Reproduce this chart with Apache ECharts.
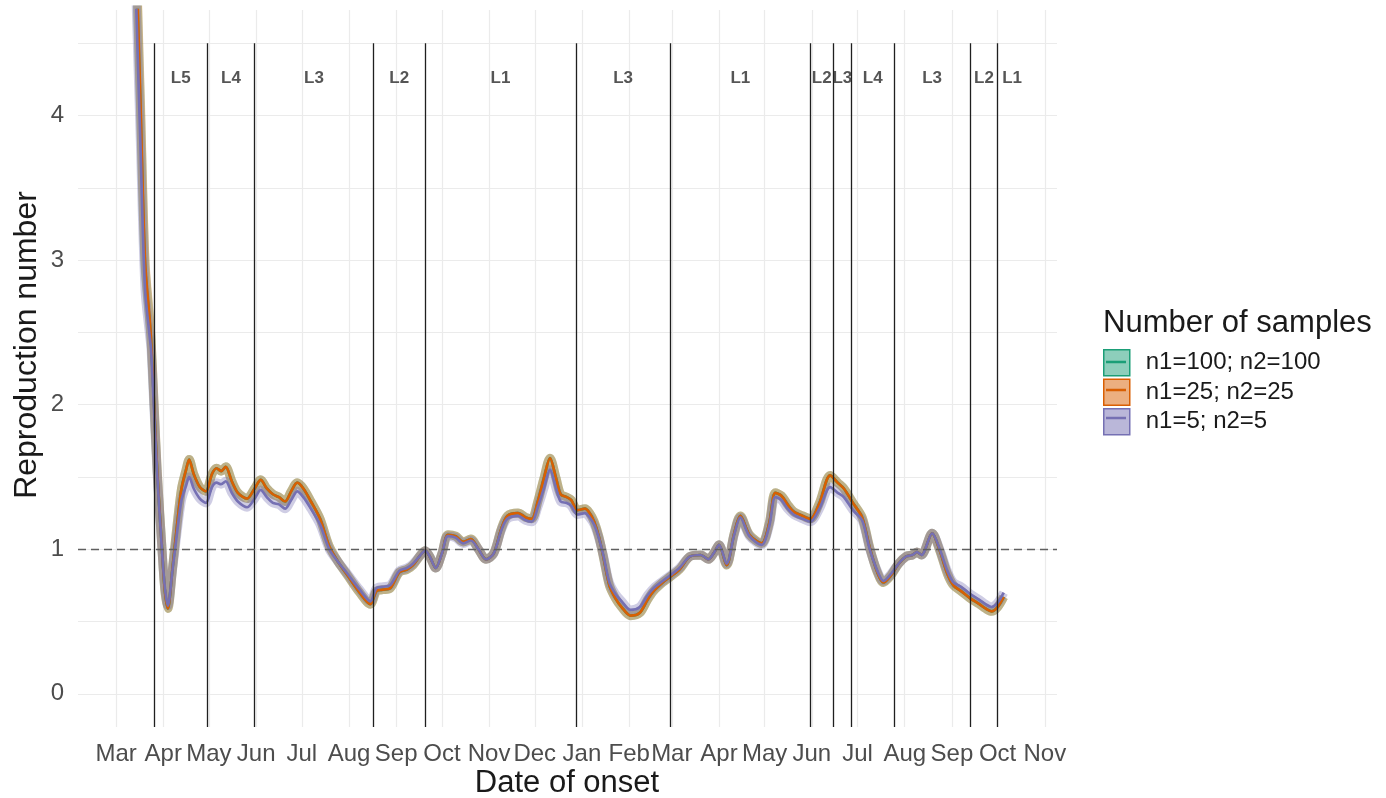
<!DOCTYPE html>
<html>
<head>
<meta charset="utf-8">
<title>Reproduction number by date of onset</title>
<script src="https://cdn.jsdelivr.net/npm/echarts@6/dist/echarts.min.js"></script>
<style>
  html, body { margin: 0; padding: 0; background: #ffffff; }
  #chart { width: 1386px; height: 798px; }
</style>
</head>
<body>
<div id="chart"></div>
<script>
// estimates
var dates = [
  '2020-03-12','2020-03-14','2020-03-17','2020-03-20','2020-03-23','2020-03-24','2020-03-26','2020-03-28','2020-03-31','2020-04-02',
  '2020-04-04','2020-04-07','2020-04-10','2020-04-13','2020-04-16','2020-04-18','2020-04-21','2020-04-25','2020-04-29','2020-05-03',
  '2020-05-06','2020-05-09','2020-05-12','2020-05-16','2020-05-20','2020-05-26','2020-05-31','2020-06-04','2020-06-08','2020-06-12',
  '2020-06-16','2020-06-20','2020-06-24','2020-06-28','2020-07-02','2020-07-07','2020-07-13','2020-07-19','2020-07-25','2020-07-31',
  '2020-08-08','2020-08-15','2020-08-19','2020-08-23','2020-08-28','2020-09-03','2020-09-08','2020-09-12','2020-09-17','2020-09-20',
  '2020-09-23','2020-09-27','2020-10-01','2020-10-05','2020-10-10','2020-10-15','2020-10-20','2020-10-25','2020-10-30','2020-11-04',
  '2020-11-09','2020-11-13','2020-11-20','2020-11-25','2020-11-29','2020-12-03','2020-12-07','2020-12-11','2020-12-15','2020-12-18',
  '2020-12-22','2020-12-25','2020-12-29','2021-01-03','2021-01-06','2021-01-09','2021-01-12','2021-01-15','2021-01-19','2021-01-23',
  '2021-01-27','2021-02-02','2021-02-08','2021-02-13','2021-02-17','2021-02-23','2021-02-28','2021-03-06','2021-03-13','2021-03-20',
  '2021-03-25','2021-03-29','2021-04-01','2021-04-06','2021-04-11','2021-04-15','2021-04-21','2021-04-29','2021-05-04','2021-05-08',
  '2021-05-12','2021-05-16','2021-05-20','2021-05-26','2021-05-31','2021-06-06','2021-06-13','2021-06-18','2021-06-22','2021-06-28',
  '2021-07-04','2021-07-09','2021-07-14','2021-07-18','2021-07-23','2021-07-28','2021-08-02','2021-08-06','2021-08-09','2021-08-12',
  '2021-08-19','2021-08-24','2021-08-29','2021-09-02','2021-09-07','2021-09-13','2021-09-19','2021-09-23','2021-09-27','2021-10-01',
  '2021-10-05'
];
var r100 = [
  5.95,5.15,4.05,2.97,2.58,2.44,1.99,1.54,1.03,0.72,
  0.59,0.86,1.16,1.42,1.55,1.62,1.52,1.43,1.40,1.52,
  1.56,1.54,1.57,1.47,1.39,1.35,1.42,1.48,1.42,1.38,
  1.36,1.33,1.40,1.46,1.42,1.33,1.21,1.02,0.91,0.82,
  0.70,0.62,0.71,0.72,0.73,0.84,0.86,0.89,0.96,0.99,
  0.95,0.87,0.97,1.10,1.09,1.05,1.07,1.00,0.93,0.97,
  1.14,1.23,1.25,1.22,1.21,1.33,1.49,1.63,1.49,1.38,
  1.36,1.34,1.27,1.28,1.25,1.19,1.09,0.95,0.75,0.66,
  0.60,0.54,0.56,0.65,0.71,0.77,0.81,0.86,0.95,0.96,
  0.93,0.98,1.03,0.89,1.11,1.23,1.10,1.04,1.18,1.39,
  1.37,1.31,1.26,1.23,1.21,1.32,1.51,1.46,1.42,1.32,
  1.22,1.01,0.84,0.77,0.82,0.90,0.95,0.96,0.98,0.96,
  1.11,0.99,0.83,0.75,0.71,0.66,0.62,0.59,0.57,0.60,
  0.67
];
var r25 = [
  6.00,5.20,4.10,3.00,2.60,2.45,2.00,1.55,1.03,0.72,
  0.59,0.86,1.16,1.42,1.55,1.62,1.52,1.43,1.40,1.52,
  1.56,1.54,1.57,1.47,1.39,1.35,1.42,1.48,1.42,1.38,
  1.36,1.33,1.40,1.46,1.42,1.33,1.21,1.02,0.91,0.82,
  0.70,0.62,0.71,0.72,0.73,0.84,0.86,0.89,0.96,0.99,
  0.95,0.87,0.97,1.10,1.09,1.05,1.07,1.00,0.93,0.97,
  1.14,1.23,1.25,1.22,1.21,1.33,1.49,1.63,1.49,1.38,
  1.36,1.34,1.27,1.28,1.25,1.19,1.09,0.95,0.75,0.66,
  0.60,0.54,0.56,0.65,0.71,0.77,0.81,0.86,0.95,0.96,
  0.93,0.98,1.03,0.89,1.11,1.23,1.10,1.04,1.18,1.39,
  1.37,1.31,1.26,1.23,1.21,1.32,1.51,1.46,1.42,1.32,
  1.22,1.01,0.84,0.77,0.82,0.90,0.95,0.96,0.98,0.96,
  1.11,0.99,0.83,0.75,0.71,0.66,0.62,0.59,0.57,0.60,
  0.67
];
var r5 = [
  5.60,4.85,3.80,2.80,2.48,2.38,1.95,1.52,1.02,0.74,
  0.61,0.85,1.11,1.34,1.44,1.50,1.42,1.35,1.32,1.43,
  1.46,1.45,1.47,1.39,1.33,1.29,1.35,1.41,1.36,1.32,
  1.31,1.28,1.34,1.40,1.36,1.28,1.17,1.00,0.91,0.83,
  0.72,0.64,0.73,0.74,0.75,0.85,0.87,0.90,0.96,0.99,
  0.95,0.87,0.97,1.09,1.08,1.04,1.06,1.00,0.93,0.97,
  1.13,1.21,1.23,1.20,1.19,1.29,1.42,1.55,1.42,1.33,
  1.32,1.30,1.24,1.25,1.22,1.17,1.08,0.96,0.77,0.69,
  0.64,0.58,0.60,0.68,0.73,0.78,0.82,0.87,0.95,0.96,
  0.93,0.98,1.03,0.90,1.10,1.22,1.09,1.03,1.16,1.36,
  1.34,1.28,1.24,1.21,1.19,1.28,1.43,1.39,1.36,1.27,
  1.20,1.00,0.85,0.78,0.83,0.90,0.95,0.96,0.98,0.96,
  1.11,1.00,0.85,0.77,0.74,0.69,0.65,0.62,0.60,0.63,
  0.70
];
var seriesNames = ['n1=100; n2=100', 'n1=25; n2=25', 'n1=5; n2=5'];

// lockdown level boundaries and labels
var levelBreaks = ['2020-03-26','2020-04-30','2020-05-31','2020-08-17','2020-09-20','2020-12-28','2021-02-28',
                   '2021-05-31','2021-06-15','2021-06-27','2021-07-25','2021-09-13','2021-10-01'];
var levelEnd = '2021-10-20';
var levelLabels = ['L5','L4','L3','L2','L1','L3','L1','L2','L3','L4','L3','L2','L1'];

var monthTicks = ['2020-03-01','2020-04-01','2020-05-01','2020-06-01','2020-07-01','2020-08-01','2020-09-01',
                  '2020-10-01','2020-11-01','2020-12-01','2021-01-01','2021-02-01','2021-03-01','2021-04-01',
                  '2021-05-01','2021-06-01','2021-07-01','2021-08-01','2021-09-01','2021-10-01','2021-11-01'];
var monthNames = ['Jan','Feb','Mar','Apr','May','Jun','Jul','Aug','Sep','Oct','Nov','Dec'];
var yTicks = [0, 1, 2, 3, 4];
var yGrid = [0, 0.5, 1, 1.5, 2, 2.5, 3, 3.5, 4, 4.5];

var X_MIN = '2020-02-05', X_MAX = '2021-11-09';
var Y_MIN = -0.23, Y_MAX = 4.73;
var LABEL_Y = 4.26, VLINE_TOP = 4.5;

var colors = ['#1b9e77', '#d95f02', '#7570b3'];
var fills = ['rgba(27,158,119,0.5)', 'rgba(217,95,2,0.5)', 'rgba(117,112,179,0.5)'];
var FONT = 'Liberation Sans, Arial, sans-serif';

function toTime(s) {
    var p = s.split('-');
    return new Date(+p[0], +p[1] - 1, +p[2]).getTime();
}

var allValues = [r100, r25, r5];
var series = [];
// ribbons first, then lines (like the ggplot layers)
allValues.forEach(function (vals, i) {
    series.push({
        name: seriesNames[i],
        type: 'line',
        data: dates.map(function (d, k) { return [toTime(d), vals[k]]; }),
        showSymbol: false,
        smooth: 0.3,
        silent: true,
        z: 2,
        lineStyle: { width: 9, color: colors[i], opacity: 0.35 },
        itemStyle: { color: colors[i] }
    });
});
allValues.forEach(function (vals, i) {
    series.push({
        name: seriesNames[i],
        type: 'line',
        data: dates.map(function (d, k) { return [toTime(d), vals[k]]; }),
        showSymbol: false,
        smooth: 0.3,
        silent: true,
        z: 3,
        lineStyle: { width: 2.7, color: colors[i] },
        itemStyle: { color: colors[i] }
    });
});

// level labels + vertical boundaries
var labelData = levelLabels.map(function (l, i) {
    var a = toTime(levelBreaks[i]);
    var b = toTime(i + 1 < levelBreaks.length ? levelBreaks[i + 1] : levelEnd);
    return [(a + b) / 2, LABEL_Y, l];
});
series.push({
    type: 'scatter',
    data: labelData,
    symbolSize: 1,
    silent: true,
    z: 5,
    itemStyle: { color: 'rgba(0,0,0,0)' },
    label: {
        show: true,
        position: 'inside',
        formatter: function (p) { return p.value[2]; },
        fontFamily: FONT,
        fontWeight: 'bold',
        fontSize: 17,
        color: '#2b2b2b'
    },
    markLine: {
        silent: true,
        symbol: ['none', 'none'],
        animation: false,
        label: { show: false },
        lineStyle: { color: '#1f1f1f', width: 1.3, type: 'solid' },
        data: levelBreaks.map(function (d) {
            return [{ coord: [toTime(d), VLINE_TOP] }, { coord: [toTime(d), Y_MIN] }];
        })
    }
});
// reference line at R = 1
series.push({
    type: 'line',
    data: [],
    silent: true,
    z: 1,
    markLine: {
        silent: true,
        symbol: ['none', 'none'],
        animation: false,
        label: { show: false },
        lineStyle: { color: '#5f5f5f', width: 1.3, type: [8, 5] },
        data: [{ yAxis: 1 }]
    }
});

var chart = echarts.init(document.getElementById('chart'), null, { renderer: 'canvas' });
chart.setOption({
    animation: false,
    backgroundColor: '#ffffff',
    title: {
        text: 'Number of samples',
        left: 1103,
        top: 308,
        padding: 0,
        textStyle: { fontFamily: FONT, fontSize: 31, fontWeight: 'normal', color: '#1a1a1a' }
    },
    legend: {
        orient: 'vertical',
        left: 1103,
        top: 349,
        padding: 0,
        itemWidth: 26,
        itemHeight: 26,
        itemGap: 2,
        icon: 'rect',
        selectedMode: false,
        textStyle: { fontFamily: FONT, fontSize: 24, color: '#1a1a1a', padding: [0, 0, 0, 11] },
        data: seriesNames.map(function (n, i) {
            return { name: n, itemStyle: { color: fills[i], borderColor: colors[i], borderWidth: 1.5 } };
        })
    },
    graphic: seriesNames.map(function (n, i) {
        return {
            type: 'line',
            silent: true,
            z: 100,
            shape: { x1: 1106, y1: 362 + i * 28, x2: 1126, y2: 362 + i * 28 },
            style: { stroke: colors[i], lineWidth: 2.5 }
        };
    }).concat([
        {
            type: 'text',
            silent: true,
            x: 567,
            y: 783,
            style: {
                text: 'Date of onset', font: '31px ' + FONT, fill: '#1a1a1a',
                textAlign: 'center', textVerticalAlign: 'middle'
            }
        },
        {
            type: 'text',
            silent: true,
            x: 27,
            y: 345,
            rotation: Math.PI / 2,
            style: {
                text: 'Reproduction number', font: '32px ' + FONT, fill: '#1a1a1a',
                textAlign: 'center', textVerticalAlign: 'middle'
            }
        }
    ]),
    grid: { left: 78, right: 329, top: 10, bottom: 71, containLabel: false },
    xAxis: {
        type: 'value',
        min: toTime(X_MIN),
        max: toTime(X_MAX),
        axisLine: { show: false },
        axisTick: { show: false, customValues: monthTicks.map(toTime) },
        axisLabel: {
            customValues: monthTicks.map(toTime),
            formatter: function (v) { return monthNames[new Date(v).getMonth()]; },
            fontFamily: FONT,
            fontSize: 24,
            color: '#4d4d4d',
            margin: 15,
            hideOverlap: false
        },
        splitLine: { show: true, lineStyle: { color: '#ebebeb', width: 1.2 } }
    },
    yAxis: {
        type: 'value',
        min: Y_MIN,
        max: Y_MAX,
        axisLine: { show: false },
        axisTick: { show: false, customValues: yGrid },
        axisLabel: {
            customValues: yTicks,
            fontFamily: FONT,
            fontSize: 24,
            color: '#4d4d4d',
            margin: 14
        },
        splitLine: { show: true, lineStyle: { color: '#ebebeb', width: 1.2 } }
    },
    series: series
});
</script>
</body>
</html>
